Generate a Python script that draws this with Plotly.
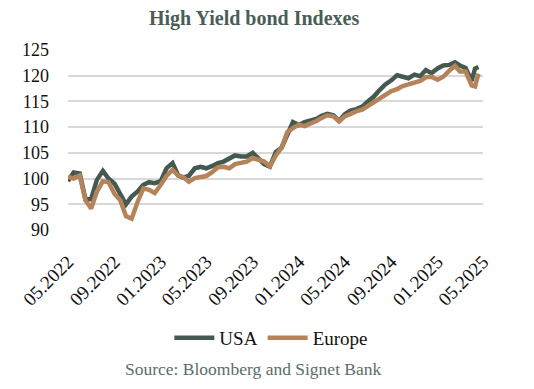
import plotly.graph_objects as go

dates = ["2022-05-01","2022-05-16","2022-06-01","2022-06-16","2022-07-01","2022-07-16","2022-08-01","2022-08-16",
         "2022-09-01","2022-09-16","2022-10-01","2022-10-16","2022-11-01","2022-11-16","2022-12-01","2022-12-16",
         "2023-01-01","2023-01-16","2023-02-01","2023-02-16","2023-03-01","2023-03-16","2023-04-01","2023-04-16",
         "2023-05-01","2023-05-16","2023-06-01","2023-06-16","2023-07-01","2023-07-16","2023-08-01","2023-08-16",
         "2023-09-01","2023-09-16","2023-10-01","2023-10-16","2023-11-01","2023-11-16","2023-12-01","2023-12-16",
         "2024-01-01","2024-01-16","2024-02-01","2024-02-16","2024-03-01","2024-03-16","2024-04-01","2024-04-16",
         "2024-05-01","2024-05-16","2024-06-01","2024-06-16","2024-07-01","2024-07-16","2024-08-01","2024-08-16",
         "2024-09-01","2024-09-16","2024-10-01","2024-10-16","2024-11-01","2024-11-16","2024-12-01","2024-12-16",
         "2025-01-01","2025-01-16","2025-02-01","2025-02-16","2025-03-01","2025-03-16","2025-04-01","2025-04-10",
         "2025-04-19"]

usa = [99.5,101.2,101.0,96.0,96.0,99.7,101.5,100.0,
       99.0,96.8,95.0,96.5,97.5,98.8,99.3,99.1,
       99.5,102.0,103.0,100.6,100.2,100.5,102.0,102.3,
       102.0,102.4,103.0,103.3,103.8,104.5,104.3,104.3,
       105.0,104.0,102.8,102.3,105.2,106.0,108.5,111.0,
       110.4,111.0,111.3,111.6,112.2,112.6,112.3,111.2,
       112.5,113.2,113.5,114.0,115.0,115.9,117.2,118.3,
       119.1,120.1,119.8,119.5,120.2,119.9,121.1,120.5,
       121.4,122.0,122.1,122.6,122.0,121.5,119.0,121.4,
       121.7]

europe = [100.4,100.0,100.6,95.8,94.2,97.4,99.5,99.3,
          97.0,95.8,92.7,92.2,95.5,98.1,97.8,97.2,
          98.8,100.5,101.7,100.6,100.3,99.4,100.1,100.4,
          100.5,101.2,102.2,102.3,102.0,102.8,103.0,103.3,
          104.0,103.7,103.3,102.4,104.5,106.0,109.0,109.8,
          110.5,110.2,110.6,111.2,111.8,112.3,112.1,111.1,
          112.1,112.7,113.1,113.4,114.1,114.9,115.5,116.3,
          117.0,117.4,118.0,118.3,118.6,119.0,119.7,119.8,
          119.2,119.8,121.0,121.9,120.8,120.8,118.1,117.9,
          120.4]

tick_vals = ["2022-05-01","2022-09-01","2023-01-01","2023-05-01","2023-09-01",
             "2024-01-01","2024-05-01","2024-09-01","2025-01-01","2025-05-01"]
tick_text = ["05.2022","09.2022","01.2023","05.2023","09.2023",
             "01.2024","05.2024","09.2024","01.2025","05.2025"]
y_ticks = [90, 95, 100, 105, 110, 115, 120, 125]

serif = "Liberation Serif, DejaVu Serif, serif"

TOP, BOTTOM = 50, 230
PH = BOTTOM - TOP


def py(pix):
    return (BOTTOM - pix) / PH


fig = go.Figure()
fig.add_trace(go.Scatter(x=dates, y=usa, name="USA", mode="lines",
                         line=dict(color="#44594f", width=4.5)))
fig.add_trace(go.Scatter(x=dates, y=europe, name="Europe", mode="lines",
                         line=dict(color="#b5835a", width=4.5)))

fig.update_layout(
    width=534, height=389,
    margin=dict(l=68, r=51, t=TOP, b=389 - BOTTOM, autoexpand=False),
    paper_bgcolor="white", plot_bgcolor="white",
    font=dict(family=serif, color="#111111", size=18),
    showlegend=True,
    legend=dict(orientation="h", x=0.49, xanchor="center",
                y=py(338), yanchor="middle",
                font=dict(size=19, family=serif, color="#111111"),
                itemwidth=40, traceorder="normal"),
    annotations=[
        dict(text="<b>High Yield bond Indexes</b>", xref="paper", yref="paper",
             x=0.448, y=py(19), xanchor="center", yanchor="middle",
             showarrow=False, font=dict(size=20, family=serif, color="#4a5e55")),
        dict(text="Source: Bloomberg and Signet Bank", xref="paper", yref="paper",
             x=0.446, y=py(369), xanchor="center", yanchor="middle",
             showarrow=False, font=dict(size=17.5, family=serif, color="#5a6e66")),
    ],
)
fig.update_xaxes(type="date", range=["2022-05-01", "2025-05-01"],
                 tickvals=tick_vals, ticktext=tick_text, tickangle=-45,
                 showgrid=False, zeroline=False, showline=False, ticks="",
                 automargin=False, ticklabelstandoff=16,
                 tickfont=dict(size=19, family=serif, color="#111111"))
fig.update_yaxes(range=[90, 125], tickvals=y_ticks, showgrid=True,
                 gridcolor="#d9d9d9", gridwidth=2, zeroline=False, showline=False,
                 ticks="", ticklabelstandoff=18, automargin=False,
                 tickfont=dict(size=18, family=serif, color="#111111"))

fig.write_html("out.html", config={"displayModeBar": False},
               post_script="document.body.style.margin='0';")
